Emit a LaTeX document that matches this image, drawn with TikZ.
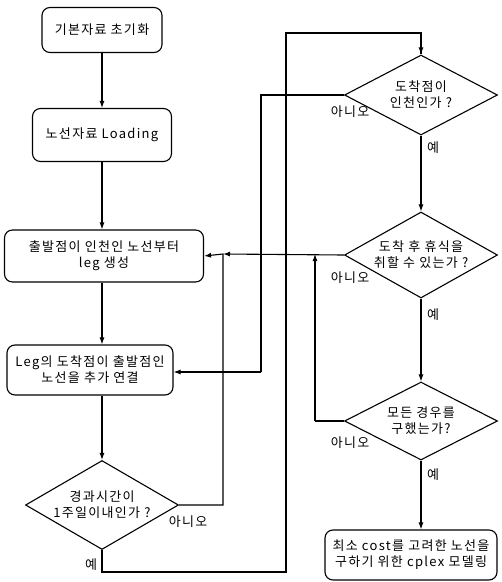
\documentclass[tikz,border=0pt]{standalone}
\usepackage{fontspec}
\setmainfont{Noto Sans CJK KR}[LetterSpace=10]
\usetikzlibrary{shapes.geometric,arrows.meta}

\begin{document}
\begin{tikzpicture}[x=1pt,y=-1pt,line width=1.1pt,
    font=\fontsize{13}{16}\selectfont,
    >={Latex[length=7pt,width=5pt]}]
\useasboundingbox (0,0) rectangle (502,582);

\begin{scope}[every node/.style={rectangle,rounded corners=8pt,draw,align=center,inner sep=0pt}]
    \node[minimum width=120pt,minimum height=45pt] (b1) at (102, 30) {기본자료 초기화};
    \node[minimum width=139pt,minimum height=53pt] (b2) at (102, 135) {노선자료 Loading};
    \node[minimum width=199pt,minimum height=52pt] (b3) at (104, 256) {출발점이 인천인 노선부터\\leg 생성};
    \node[minimum width=166pt,minimum height=50pt] (b4) at (90, 370) {Leg의 도착점이 출발점인\\노선을 추가 연결};
    \node[minimum width=172pt,minimum height=50pt] (b5) at (411, 555) {최소 cost를 고려한 노선을\\구하기 위한 cplex 모델링};
\end{scope}

% diamonds of fixed size, texts set on top
\begin{scope}[every node/.style={diamond,draw,inner sep=0pt,minimum width=153pt}]
    \node[minimum height=89pt] (d1) at (102, 505) {};
    \node[minimum height=80pt] (d2) at (421, 95) {};
    \node[minimum height=86pt] (d3) at (421, 255) {};
    \node[minimum height=78pt] (d4) at (421, 421) {};
\end{scope}

\begin{scope}[every node/.style={align=center,inner sep=0pt}]
    \node (t1) at (d1) {경과시간이\\1주일이내인가 ?};
    \node (t2) at (d2) {도착점이\\인천인가 ?};
    \node (t3) at (d3) {도착 후 휴식을\\취할 수 있는가 ?};
    \node (t4) at (d4) {모든 경우를\\구했는가?};
\end{scope}

\begin{scope}[every node/.style={inner sep=0pt}]
    \node (n1) at (188, 522) {아니오};
    \node (y1) at (91, 565) {예};
    \node (n2) at (350, 112) {아니오};
    \node (y2) at (433, 148) {예};
    \node (n3) at (350, 278) {아니오};
    \node (y3) at (433, 315) {예};
    \node (n4) at (350, 443) {아니오};
    \node (y4) at (433, 475) {예};
\end{scope}

\coordinate (j1) at (223, 254);
\coordinate (j2) at (315, 254);
\coordinate (c1) at (102, 572);
\coordinate (c2) at (286, 572);
\coordinate (c3) at (286, 33);
\coordinate (c4) at (261, 95);
\coordinate (c5) at (261, 372);
\coordinate (c6) at (315, 421);

\begin{scope}
    \draw[->] (b1) -- (b2);
    \draw[->] (b2) -- (b3.north -| b2);
    \draw[->] (b3.south -| b2) -- (b4.north -| b2);
    \draw[->] (b4.south -| d1) -- (d1.north);

    \draw[->] (d1.east) -| (j1) -- (b3.east);
    \draw (d1.south) -- (c1) -- (c2) -- (c3) -| (d2.north);
    \draw[->] (c3 -| d2.north) -- (d2.north);

    \draw (d2.west) -- (c4) -- (c5);
    \draw[->] (c5) -- (c5 -| b4.east);
    \draw[->] (d2.south) -- (d3.north);

    \draw[->] (d3.west) -- (j1);
    \draw[->] (d3.south) -- (d4.north);

    \draw (d4.west) -- (c6);
    \draw[->] (c6) -- (j2);
    \draw[->] (d4.south) -- (b5.north -| d4);
\end{scope}

\end{tikzpicture}
\end{document}
